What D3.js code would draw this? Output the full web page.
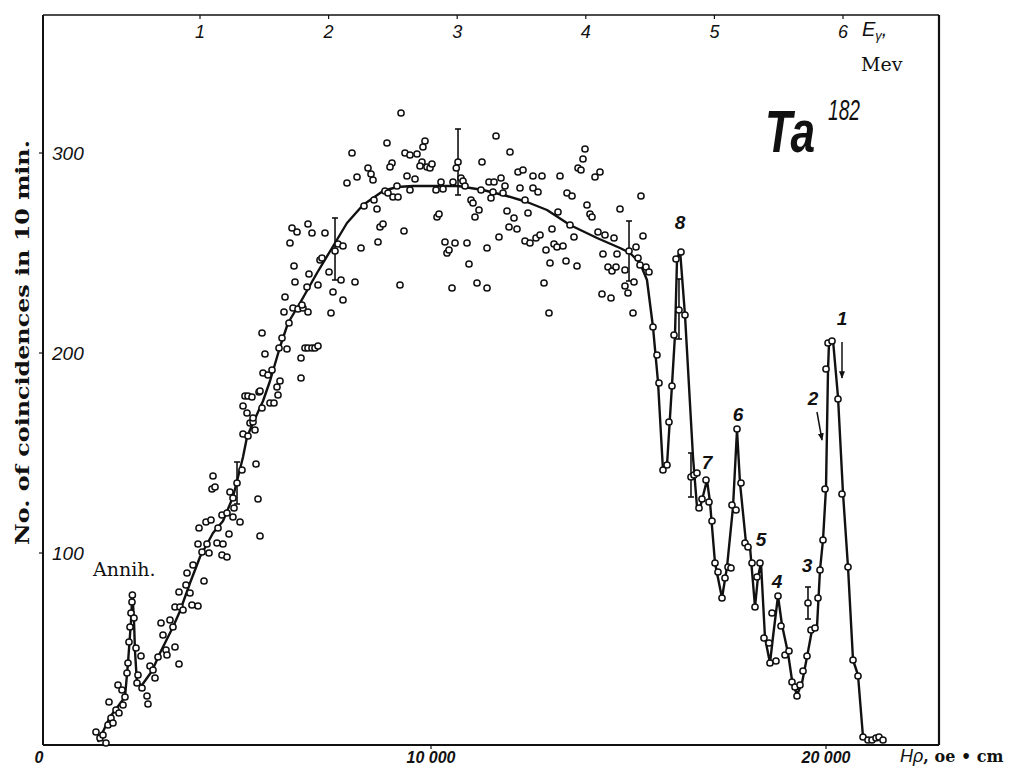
<!DOCTYPE html>
<html>
<head>
<meta charset="utf-8">
<script src="https://cdn.jsdelivr.net/npm/d3@7"></script>
<style>
  html, body { margin: 0; padding: 0; background: #fff; }
  svg { display: block; }
  .num { font-family: "Liberation Sans Narrow", "Liberation Sans", Arial, sans-serif; font-style: italic; fill: #111; }
  .serif { font-family: "DejaVu Serif", "Liberation Serif", serif; fill: #111; }
</style>
</head>
<body>
<svg id="chart" width="1021" height="768"></svg>
<script>
// Magnetic rigidity Hρ (oe·cm) of the fitted spectrum curve and its counts
const curveH = [1570, 1873, 2253, 2329, 2405, 2440, 2481, 2506, 2557, 2684, 2937, 3139, 3468, 3646, 3899,
  4152, 4481, 4734, 4987, 5089, 5241, 5342, 5494, 5747, 5924, 6177, 6380, 6684, 7114, 7570, 7873, 8278,
  8785, 9139, 9544, 10051, 10684, 11316, 11924, 12430, 12937, 13519, 14203, 14785, 15038, 15291, 15468,
  15620, 15747, 15873, 15975, 16101, 16177, 16228, 16304, 16430, 16633, 16734, 16810, 16987, 17063, 17190,
  17367, 17494, 17646, 17747, 17823, 17975, 18076, 18203, 18278, 18354, 18456, 18582, 18658, 18785, 18886,
  19038, 19139, 19266, 19392, 19519, 19646, 19772, 19848, 19924, 20000, 20051, 20076, 20177, 20304, 20430,
  20557, 20684, 20810, 20937, 21063, 21418];
const curveN = [5.5, 18, 28, 45, 66, 80, 66, 51, 35, 34, 41, 50, 63, 71, 85,
  98, 110, 116, 128, 136, 148, 158, 165, 176, 186, 203, 215, 225, 240, 255, 265, 274,
  281, 283, 283.5, 283.5, 283.5, 281.5, 278.5, 275.5, 271.5, 264, 257.5, 252.5, 250, 245, 236.5,
  213, 185.5, 141.5, 144, 184, 209, 246.5, 251.5, 219, 148, 123, 122.5, 136.5, 125.5, 95,
  77.5, 93, 123, 161.5, 135, 105, 103, 73, 88, 95, 57.5, 45, 58, 78.5, 64,
  50, 36.5, 29, 35, 48, 61.5, 63, 91.5, 106.5, 132.5, 191.5, 205, 206.5, 178, 130,
  93, 46.5, 39, 8, 6.5, 7];

// Measured points: Hρ and number of coincidences in 10 min
const pointH = [1519, 1620, 1696, 1772, 1823, 1899, 1949, 2025, 2101, 1848, 2076, 2177, 2203, 2253, 2304,
  2329, 2354, 2380, 2405, 2430, 2440, 2481, 2532, 2658, 2582, 2557, 2684, 2810, 2835, 2886, 2962, 3013,
  3089, 3165, 3215, 3291, 3316, 3392, 3468, 3519, 3620, 3519, 3646, 3620, 3722, 3797, 3899, 3823, 3949,
  4101, 3975, 4253, 4101, 4203, 4329, 4380, 4127, 4304, 4430, 4608, 4582, 4734, 4709, 4835, 4886, 4709,
  4835, 4987, 5165, 4911, 4987, 5013, 5089, 5215, 4481, 4456, 4532, 5570, 5620, 5671, 5241, 5367, 5418,
  5494, 5544, 5241, 5291, 5367, 5468, 5342, 5494, 5646, 5722, 5924, 6025, 6127, 6101,
  5671, 5747, 5873, 5975, 6177, 5797, 5722, 6152, 6354, 6228, 6709, 6709, 6810, 6886, 6987, 7063, 7139,
  6278, 6304, 6405, 6506, 6633, 6759, 6886, 6734, 6557, 6532, 6911, 6861, 7139, 7190, 7240, 7418, 7519,
  7468, 7772, 7722, 8076, 8228, 7646, 7772, 7570, 6430, 6608, 6481, 6886, 6987, 7316, 8658, 8709, 8785,
  8633, 8304, 8557, 8835, 8911, 9038, 9165, 9139, 9316, 9215, 10152, 10203, 10354, 10405, 10456, 10608,
  10532, 7873, 8127, 8405, 8481, 8532, 8000, 9013, 8962, 8886, 9241, 9342, 9468, 9646, 9772, 9848, 9797,
  9721, 9899, 9975, 10025, 9392, 9595, 9468, 10253, 10127, 10304, 10557, 10684, 10640,
  10760, 10810, 10861, 10911, 10962, 11013, 11063, 11114, 11215, 11266, 11291, 11165, 11418, 11418, 11468,
  11595, 11570, 11519, 11646, 11772, 11823, 11873, 11721, 11924, 12000, 11975, 12101, 12177, 12203, 12329,
  12253, 12380, 12456, 12380, 12506, 12582, 12709, 12658, 12760, 12582, 12810, 12911, 12861, 13013, 12987,
  13063, 13114, 13190, 13342, 13418, 13215, 13266, 13443, 13570, 13519, 13620, 13696, 13722, 13797, 13848,
  13899, 13949, 14025, 14076, 14152, 14278, 14228, 14405, 14633, 14785, 14354, 14481, 14582, 14684, 14709,
  14329, 14557, 14911, 14911, 14987, 15139, 15013, 15114, 15190, 15241, 15316, 15367, 15443, 15519, 15620,
  15291, 15721, 15772, 15873, 15975, 16025, 16101, 16152, 16203, 16278, 16329, 16430, 16582, 16658, 16734,
  16785, 16861, 16962, 17038, 17114, 17190, 17266, 17367, 17443, 17519, 17595, 17620, 17722, 17747, 17848,
  17949, 18025, 18127, 18203, 18253, 18329, 18430, 18557, 18582, 18734, 18633, 18785, 18861, 18962, 19063,
  19139, 19215, 19266, 19342, 19418, 19519, 19620, 19722, 19797, 19848, 19924, 19975, 20000, 20051, 20152,
  20304, 20405, 20557, 20684, 20810, 20937, 21063, 21165, 21266, 21342, 21443, 19544];
const pointN = [10.5, 7.5, 9, 5, 14, 17.5, 15, 21.5, 20, 25.5, 34, 31.5, 24, 28, 40,
  45, 55.5, 63, 70, 75.5, 79, 67.5, 52.5, 48.5, 39, 35, 32.5, 28.5, 24.5, 43.5, 41.5, 37.5,
  48, 65, 59, 51.5, 49, 66.5, 63, 53, 44.5, 73, 73, 80.5, 71.5, 84, 80, 90, 74,
  73.5, 94, 86, 104.5, 100.5, 104.5, 100, 112.5, 115.5, 116.5, 112.5, 105, 104.5, 99, 98, 109.5, 119,
  120, 118, 115.5, 130.5, 127.5, 122.5, 135, 141.5, 138.5, 132, 133, 144.5, 127, 108.5, 159.5, 158.5, 165,
  165.5, 161.5, 173.5, 178.5, 178.5, 178, 170, 167.5, 180.5, 172.5, 175, 175, 179, 183,
  181, 190, 189, 191.5, 186, 199.5, 210, 202.5, 202, 207.5, 197.5, 187.5, 202.5, 202.5, 202.5, 202.5, 203.5,
  220.5, 228, 215, 222.5, 222, 222.5, 220.5, 224, 235.5, 243.5, 239.5, 233, 234, 246.5, 247.5, 240.5, 230.5,
  220, 226.5, 236.5, 235.5, 252.5, 254.5, 253.5, 251, 255, 260.5, 262.5, 264.5, 260, 260, 255.5, 263, 264.5,
  272, 273.5, 276.5, 281, 280, 278, 278, 283.5, 261, 234, 268, 269.5, 255.5, 250, 251.5, 255,
  232.5, 285, 288, 292.5, 289.5, 286.5, 300, 295, 293, 305, 320, 300, 299, 299.5, 295.5, 306, 303,
  293.5, 293, 292.5, 294.5, 288.5, 287, 281.5, 285.5, 281.5, 282, 285.5, 295.5, 292.5,
  287.5, 286, 283.5, 255, 244.5, 276.5, 275, 268, 271.5, 281.5, 295.5, 235, 232.5, 252.5, 285.5,
  285.5, 280.5, 277.5, 308.5, 287.5, 280, 283.5, 258, 271, 300.5, 263, 267.5, 262, 290.5, 291.5,
  282.5, 276.5, 270, 256, 255, 282.5, 280.5, 257.5, 259, 288.5, 288.5, 251.5, 235, 245, 220,
  262, 254.5, 253, 253.5, 246, 270.5, 288.5, 280, 278.5, 264, 258, 243.5, 292.5, 291.5, 297,
  302, 274, 269.5, 268, 288, 290.5, 260.5, 259, 257.5, 272, 249.5, 243, 241, 243, 249.5,
  229.5, 227.5, 241.5, 233.5, 230, 235.5, 251, 220, 253, 247.5, 278.5, 258.5, 243, 240.5, 213,
  244, 199, 185, 141.5, 144, 165.5, 183.5, 209, 247, 221.5, 250.5, 219, 138, 139, 140,
  122.5, 127, 136.5, 125.5, 116, 95, 90.5, 77.5, 87.5, 93, 92.5, 124, 121.5, 162, 135,
  105, 103, 95, 73, 88, 95, 57.5, 55, 45, 46, 70, 78.5, 63.5, 49, 51,
  35.5, 33, 28.5, 34, 41, 48.5, 61.5, 62.5, 77.5, 91.5, 106.5, 132, 192, 205, 206,
  177, 129.5, 93, 46.5, 38.5, 8, 6.5, 6.5, 7.5, 8, 6.5, 75];

// Statistical error bars: position, count, half-width
const errH = [5089, 7570, 10684, 15013, 16278, 16582, 19544];
const errN = [135, 252, 295.5, 251, 222, 139, 75];
const errD = [10.5, 15.5, 16.5, 15, 15, 11, 8];

// Gamma-line labels and their positions
const peakText = ["8", "7", "6", "5", "4", "3", "2", "1"];
const peakH = [16304, 16987, 17772, 18354, 18759, 19519, 19671, 20405];
const peakN = [265.5, 145.5, 169.5, 107, 86, 94, 177.5, 217.5];

// Arrows marking lines 2 and 1: start and end
const arrowH0 = [19772, 20405], arrowN0 = [170.5, 205.5];
const arrowH1 = [19899, 20405], arrowN1 = [156.5, 187.5];

// Axis tick labels
const yTicks = [100, 200, 300];
const xTicks = [0, 10000, 20000];
const xTickText = ["0", "10 000", "20 000"];
const eTicks = [1, 2, 3, 4, 5, 6];

const svg = d3.select("#chart");
const ink = "#111";

const x = d3.scaleLinear().domain([0, 20000]).range([36, 826]);
const y = d3.scaleLinear().domain([0, 300]).range([753, 153]);
const e = d3.scaleLinear().domain([1, 6]).range([200, 843]);

const frame = { left: 43, right: 939, top: 15, bottom: 745 };

// Frame
svg.append("line").attr("x1", frame.left).attr("x2", frame.right).attr("y1", frame.top).attr("y2", frame.top)
  .attr("stroke", ink).attr("stroke-width", 1.6);
svg.append("line").attr("x1", frame.left).attr("x2", frame.right).attr("y1", frame.bottom).attr("y2", frame.bottom)
  .attr("stroke", ink).attr("stroke-width", 2);
svg.append("line").attr("x1", frame.left).attr("x2", frame.left).attr("y1", frame.top).attr("y2", frame.bottom)
  .attr("stroke", ink).attr("stroke-width", 2);
svg.append("line").attr("x1", frame.right).attr("x2", frame.right).attr("y1", frame.top).attr("y2", frame.bottom)
  .attr("stroke", ink).attr("stroke-width", 2.2);

// Left axis ticks and labels (inside the frame)
yTicks.forEach(v => {
  svg.append("line").attr("x1", frame.left - 4).attr("x2", frame.left).attr("y1", y(v)).attr("y2", y(v))
    .attr("stroke", ink).attr("stroke-width", 1.2);
  svg.append("text").attr("class", "num").attr("x", frame.left + 9).attr("y", y(v) + 7)
    .attr("font-size", 19).text(v);
});

// Bottom axis ticks and labels
xTicks.forEach((v, i) => {
  if (v > 0) {
    svg.append("line").attr("x1", x(v)).attr("x2", x(v)).attr("y1", frame.bottom).attr("y2", frame.bottom + 4)
      .attr("stroke", ink).attr("stroke-width", 1.2);
  }
  svg.append("text").attr("class", "num").attr("x", v === 0 ? x(v) + 3 : x(v)).attr("y", 763)
    .attr("text-anchor", "middle").attr("font-size", 16).attr("font-weight", "bold").text(xTickText[i]);
});

// Top energy scale
eTicks.forEach(v => {
  svg.append("line").attr("x1", e(v)).attr("x2", e(v)).attr("y1", frame.top).attr("y2", frame.top + 4)
    .attr("stroke", ink).attr("stroke-width", 1.2);
  svg.append("text").attr("class", "num").attr("x", e(v)).attr("y", 38)
    .attr("text-anchor", "middle").attr("font-size", 18).text(v);
});
const eLab = svg.append("text").attr("class", "num").attr("x", 862).attr("y", 36).attr("font-size", 20);
eLab.append("tspan").text("E");
eLab.append("tspan").attr("font-size", 13).attr("dy", 4).text("γ");
eLab.append("tspan").attr("dy", -4).text(",");
svg.append("text").attr("class", "serif").attr("x", 861).attr("y", 71).attr("font-size", 19).text("Mev");

// Bottom axis title
const hLab = svg.append("text").attr("x", 900).attr("y", 762).attr("font-size", 18).attr("fill", ink);
hLab.append("tspan").attr("font-family", "Liberation Sans, Arial, sans-serif").attr("font-style", "italic").text("Hρ");
hLab.append("tspan").attr("font-family", "DejaVu Serif, serif").attr("font-weight", "bold").attr("font-size", 16).text(", oe • cm");

// Vertical axis title
svg.append("text").attr("class", "serif")
  .attr("transform", "translate(29,545) rotate(-90)")
  .attr("font-size", 19).attr("font-weight", "bold")
  .attr("textLength", 405).attr("lengthAdjust", "spacingAndGlyphs")
  .text("No. of coincidences in 10 min.");

// Isotope label
svg.append("text").attr("x", 765).attr("y", 152).attr("font-family", "Liberation Sans, Arial, sans-serif")
  .attr("font-style", "italic").attr("font-weight", "bold").attr("font-size", 60).attr("fill", ink)
  .attr("textLength", 50).attr("lengthAdjust", "spacingAndGlyphs").text("Ta");
svg.append("text").attr("x", 828).attr("y", 120).attr("font-family", "Liberation Sans, Arial, sans-serif")
  .attr("font-style", "italic").attr("font-size", 30).attr("fill", ink)
  .attr("textLength", 32).attr("lengthAdjust", "spacingAndGlyphs").text("182");

// Annihilation peak label
svg.append("text").attr("class", "serif").attr("x", 93).attr("y", 576).attr("font-size", 19).text("Annih.");

// Fitted curve
const line = d3.line().x((d, i) => x(curveH[i])).y((d, i) => y(curveN[i])).curve(d3.curveLinear);
svg.append("path").attr("d", line(curveH)).attr("fill", "none").attr("stroke", ink)
  .attr("stroke-width", 2.4).attr("stroke-linejoin", "round");

// Error bars
const eb = svg.append("g").attr("stroke", ink).attr("stroke-width", 1.6);
errH.forEach((h, i) => {
  const cx = x(h), y0 = y(errN[i] - errD[i]), y1 = y(errN[i] + errD[i]);
  eb.append("line").attr("x1", cx).attr("x2", cx).attr("y1", y0).attr("y2", y1);
  eb.append("line").attr("x1", cx - 3).attr("x2", cx + 3).attr("y1", y0).attr("y2", y0);
  eb.append("line").attr("x1", cx - 3).attr("x2", cx + 3).attr("y1", y1).attr("y2", y1);
});

// Measured points
svg.append("g").selectAll("circle").data(pointH).join("circle")
  .attr("cx", (d, i) => x(pointH[i])).attr("cy", (d, i) => y(pointN[i]))
  .attr("r", 3.1).attr("fill", "#fff").attr("stroke", ink).attr("stroke-width", 1.5);

// Line numbers
peakText.forEach((t, i) => {
  svg.append("text").attr("class", "num").attr("x", x(peakH[i])).attr("y", y(peakN[i]) + 7)
    .attr("text-anchor", "middle").attr("font-size", 19).attr("font-weight", "bold").text(t);
});

// Arrows
svg.append("defs").append("marker").attr("id", "ah").attr("viewBox", "0 0 10 10")
  .attr("refX", 9).attr("refY", 5).attr("markerWidth", 5).attr("markerHeight", 7).attr("orient", "auto")
  .append("path").attr("d", "M0,1 L10,5 L0,9 Z").attr("fill", ink);
arrowH0.forEach((h, i) => {
  svg.append("line").attr("x1", x(h)).attr("y1", y(arrowN0[i])).attr("x2", x(arrowH1[i])).attr("y2", y(arrowN1[i]))
    .attr("stroke", ink).attr("stroke-width", 1.5).attr("marker-end", "url(#ah)");
});
</script>
</body>
</html>
